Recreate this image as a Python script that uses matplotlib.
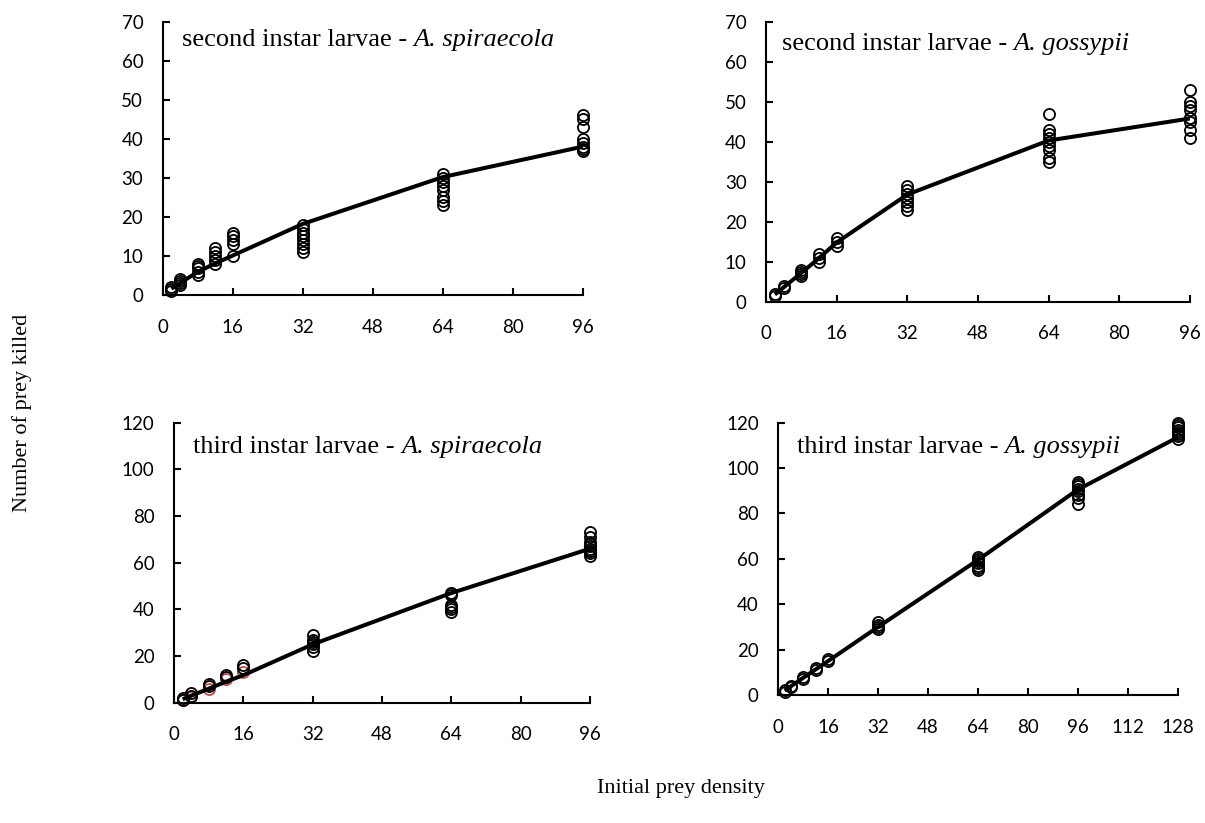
import matplotlib
matplotlib.use("Agg")
import matplotlib.pyplot as plt
import numpy as np

# ---------------- data ----------------
dens_96 = [2, 4, 8, 12, 16, 32, 64, 96]
dens_128 = [2, 4, 8, 12, 16, 32, 64, 96, 128]

# Panel A: second instar - A. spiraecola
a_obs = {
    2: [2, 1.5, 1],
    4: [4, 3.5, 3, 2.5],
    8: [8, 7.5, 7, 6, 5],
    12: [12, 11, 10, 9, 8],
    16: [16, 15, 14, 13, 10],
    32: [18, 17, 16, 15, 14, 13, 12, 11],
    64: [31, 30, 29, 28, 27, 25, 24, 23],
    96: [46, 45, 43, 40, 39, 38, 37.5, 37],
}
a_fit = [1.6, 3.1, 5.9, 8.1, 10.1, 18.2, 30.2, 38.0]

# Panel B: second instar - A. gossypii
b_obs = {
    2: [2, 1.5],
    4: [4, 3.5],
    8: [8, 7.5, 7, 6.5],
    12: [12, 11, 10],
    16: [16, 15, 14],
    32: [29, 28, 27, 26, 25, 24, 23],
    64: [47, 43, 42, 41, 40, 39, 38, 36, 35],
    96: [53, 50, 49, 48, 46, 46, 45, 43, 41],
}
b_fit = [1.8, 3.6, 7.2, 10.9, 14.8, 26.8, 40.3, 45.8]

# Panel C: third instar - A. spiraecola
c_obs = {
    2: [2, 1],
    4: [4, 3],
    8: [8, 7],
    12: [12, 11],
    16: [16, 15],
    32: [29, 27, 26, 25, 24, 22],
    64: [47, 46, 42, 41, 40, 39],
    96: [73, 71, 69, 68, 67, 66, 65, 64, 63],
}
c_obs_red = {
    2: [1],
    4: [2.5],
    8: [6],
    12: [10],
    16: [13],
    64: [47],
    96: [65],
}
c_fit = [1.5, 3.0, 6.0, 9.0, 11.8, 25.0, 47.0, 66.0]

# Panel D: third instar - A. gossypii
d_obs = {
    2: [2, 1.5],
    4: [4, 3.5],
    8: [8, 7],
    12: [12, 11],
    16: [16, 15],
    32: [32, 31, 30, 29],
    64: [61, 60, 59, 58, 57, 56, 55],
    96: [94, 93, 92, 91, 90, 88, 87, 84],
    128: [120, 119, 118, 117, 116, 115, 114, 113],
}
d_fit = [2.0, 3.8, 7.6, 11.3, 15.0, 30.0, 59.5, 90.5, 113.5]

titles = ["second instar larvae - ", "second instar larvae - ",
          "third instar larvae - ", "third instar larvae - "]
species = ["A. spiraecola", "A. gossypii", "A. spiraecola", "A. gossypii"]

y_label = "Number of prey killed"
x_label = "Initial prey density"

# ---------------- figure ----------------
W, H = 1205, 823
fig = plt.figure(figsize=(W / 100, H / 100), dpi=100)

def ax_at(l, r, t, b):
    return fig.add_axes([l / W, 1 - b / H, (r - l) / W, (b - t) / H])

axes = [
    ax_at(162.7, 582.7, 21.7, 295.0),
    ax_at(766.0, 1190.0, 21.7, 301.7),
    ax_at(174.0, 590.0, 422.7, 702.7),
    ax_at(778.3, 1177.5, 422.7, 695.0),
]

cfg = [
    (a_obs, None, dens_96, a_fit, 96, 70, 10),
    (b_obs, None, dens_96, b_fit, 96, 70, 10),
    (c_obs, c_obs_red, dens_96, c_fit, 96, 120, 20),
    (d_obs, None, dens_128, d_fit, 128, 120, 20),
]
text_pos = [(0.045, 0.912), (0.037, 0.899), (0.046, 0.891), (0.046, 0.888)]

serif = "Liberation Serif"
tickfont = "Lato"

for i, (ax, (obs, red, dens, fit, xmax, ymax, ystep)) in enumerate(zip(axes, cfg)):
    # observations
    if red is not None:
        for x, ys in red.items():
            ax.plot([x] * len(ys), ys, linestyle="none", marker="o", ms=8,
                    mfc="none", mec="#C0504D", mew=1.3, zorder=2, clip_on=False)
    for x, ys in obs.items():
        ax.plot([x] * len(ys), ys, linestyle="none", marker="o", ms=8,
                mfc="none", mec="black", mew=1.3, zorder=3, clip_on=False)
    # fitted line
    ax.plot(dens, fit, color="black", lw=2.9, zorder=4, solid_capstyle="butt")

    ax.set_xlim(0, xmax)
    ax.set_ylim(0, ymax)
    ax.set_xticks(np.arange(0, xmax + 1, 16))
    ax.set_yticks(np.arange(0, ymax + 1, ystep))
    for s in ("top", "right"):
        ax.spines[s].set_visible(False)
    for s in ("left", "bottom"):
        ax.spines[s].set_linewidth(1.5)
    ax.tick_params(direction="in", length=5, width=1.5, labelsize=13.5)
    ax.tick_params(axis="x", pad=17)
    ax.tick_params(axis="y", pad=14)
    for lab in ax.get_xticklabels() + ax.get_yticklabels():
        lab.set_fontfamily(tickfont)
    ax.patch.set_alpha(0)

    tx, ty = text_pos[i]
    t1 = ax.text(tx, ty, titles[i], transform=ax.transAxes, fontsize=19,
                 family=serif, va="baseline", ha="left")
    fig.canvas.draw()
    bb = t1.get_window_extent()
    inv = ax.transAxes.inverted()
    x_end = inv.transform((bb.x1, bb.y0))[0]
    ax.text(x_end, ty, species[i], transform=ax.transAxes, fontsize=19,
            family=serif, style="italic", va="baseline", ha="left")

fig.text(22 / W, 1 - 413 / H, y_label, rotation=90, ha="center", va="center",
         family=serif, fontsize=16)
fig.text(681 / W, 1 - 788 / H, x_label, ha="center", va="center",
         family=serif, fontsize=16)

fig.savefig("out.png", dpi=100)
